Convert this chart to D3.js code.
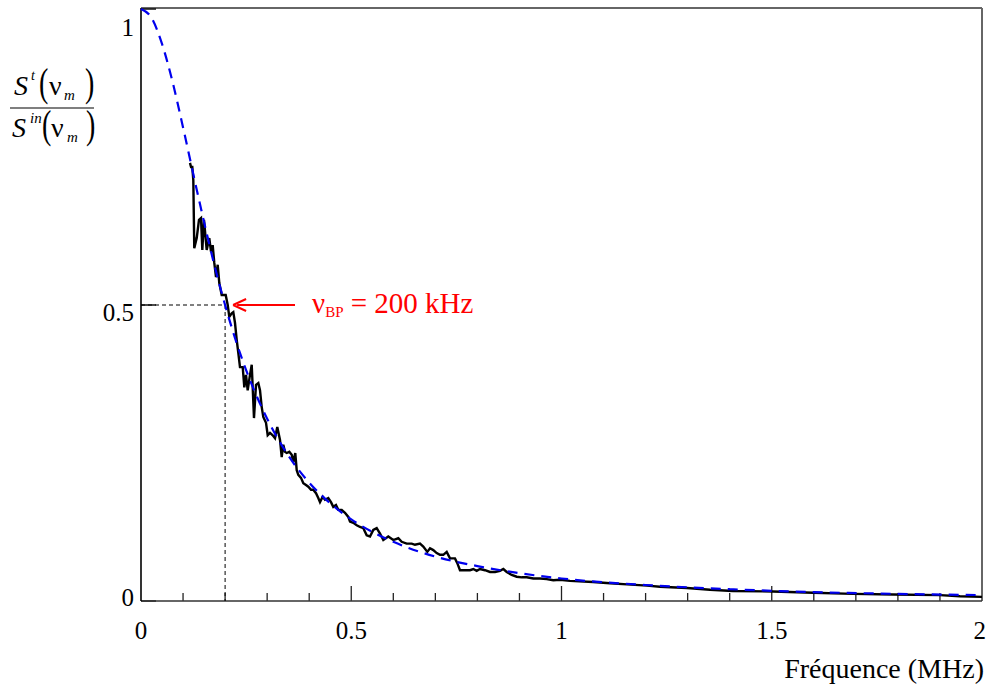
<!DOCTYPE html>
<html><head><meta charset="utf-8">
<script src="https://cdn.jsdelivr.net/npm/d3@7"></script>
<style>html,body{margin:0;padding:0;background:#fff;} svg{display:block;font-family:"Liberation Serif","DejaVu Serif",serif;}</style>
</head><body>
<svg id="chart" width="986" height="689"></svg>
<script>
// measured spectrum ratio (frequency in MHz, ratio)
const measFreq = [0.1165,0.119,0.122,0.1244,0.1267,0.1325,0.1379,0.1427,0.1458,0.1498,0.1562,0.1624,0.1665,0.1705,0.1743,0.1784,0.1824,0.1862,0.1919,0.2014,0.2062,0.210,0.2157,0.2195,0.2235,0.2276,0.2314,0.2354,0.2419,0.2457,0.2497,0.2537,0.2592,0.2633,0.2656,0.2687,0.2735,0.279,0.283,0.287,0.2908,0.2973,0.3013,0.3068,0.3132,0.3187,0.3241,0.3306,0.3346,0.3384,0.3424,0.3465,0.3527,0.3584,0.3622,0.3669,0.3703,0.3741,0.3805,0.386,0.3924,0.3979,0.4043,0.4097,0.4162,0.4216,0.4257,0.4321,0.4376,0.4454,0.4518,0.4573,0.4637,0.4692,0.4773,0.4851,0.493,0.497,0.5049,0.513,0.5208,0.5287,0.5367,0.5446,0.5524,0.5605,0.5684,0.5762,0.5881,0.600,0.6119,0.620,0.6319,0.6438,0.6516,0.6635,0.6713,0.6809,0.6873,0.6951,0.7032,0.7111,0.7189,0.727,0.7348,0.7467,0.7522,0.7586,0.7705,0.7824,0.7903,0.7983,0.8062,0.8181,0.830,0.8419,0.8537,0.8616,0.8697,0.8816,0.8935,0.9054,0.9173,0.933,0.9489,0.9648,0.9805,0.9964,1.0202,1.0749,1.1153,1.1558,1.2033,1.2342,1.2985,1.3531,1.4078,1.503,1.5981,1.6932,1.7884,1.9001,1.9477,2.0];
const measRatio = [0.740,0.733,0.733,0.711,0.596,0.613,0.644,0.647,0.593,0.644,0.593,0.613,0.590,0.601,0.571,0.547,0.568,0.537,0.517,0.517,0.500,0.480,0.486,0.488,0.470,0.441,0.419,0.395,0.395,0.361,0.382,0.356,0.382,0.399,0.361,0.309,0.365,0.368,0.356,0.328,0.311,0.301,0.280,0.284,0.280,0.275,0.294,0.272,0.243,0.264,0.252,0.250,0.252,0.247,0.235,0.250,0.221,0.213,0.208,0.199,0.196,0.193,0.188,0.188,0.182,0.174,0.167,0.176,0.171,0.174,0.167,0.159,0.162,0.154,0.154,0.149,0.142,0.134,0.132,0.128,0.125,0.123,0.111,0.109,0.120,0.123,0.114,0.103,0.109,0.103,0.106,0.100,0.097,0.097,0.095,0.097,0.092,0.083,0.089,0.086,0.081,0.078,0.078,0.083,0.072,0.072,0.064,0.052,0.052,0.052,0.054,0.051,0.054,0.052,0.049,0.049,0.051,0.054,0.049,0.044,0.041,0.040,0.040,0.038,0.038,0.037,0.035,0.036,0.034,0.032,0.030,0.028,0.026,0.024,0.022,0.019,0.017,0.016,0.014,0.012,0.011,0.010,0.008,0.007];
// model curve (dashed blue)
const modelFreq = [0,0.025,0.05,0.075,0.1,0.125,0.15,0.175,0.2,0.225,0.25,0.3,0.35,0.4,0.45,0.5,0.6,0.7,0.8,0.9,1.0,1.2,1.4,1.6,1.8,2.0];
const modelRatio = [1,0.985,0.941,0.877,0.800,0.719,0.640,0.566,0.500,0.441,0.390,0.308,0.246,0.200,0.165,0.138,0.100,0.075,0.059,0.047,0.038,0.027,0.020,0.015,0.012,0.010];
const xTickLabels = ["0","0.5","1","1.5","2"];
const xTickValues = [0,0.5,1,1.5,2];
const yTickLabels = ["0","0.5","1"];
const yTickValues = [0,0.5,1];
const bpFreq = 0.2, bpRatio = 0.5;
const annotation = {nu:"ν", sub:"BP", rest:" = 200 kHz"};
const xTitle = "Fréquence (MHz)";

const svg = d3.select("#chart");
const x = d3.scaleLinear().domain([0,2]).range([141,982]);
const y = d3.scaleLinear().domain([0,1]).range([601,9]);

// frame: top/right gray
svg.append("line").attr("x1",141).attr("x2",982).attr("y1",8).attr("y2",8).attr("stroke","#666").attr("stroke-width",2);
svg.append("line").attr("x1",982).attr("x2",982).attr("y1",8).attr("y2",601).attr("stroke","#666").attr("stroke-width",2);

// x minor/major ticks (inside, pointing up)
x.ticks(20).forEach(t=>{
  if (t===0 || t===2) return;
  const major = Math.abs(t*2-Math.round(t*2))<1e-9;
  svg.append("line").attr("x1",x(t)).attr("x2",x(t)).attr("y1",601).attr("y2",601-(major?15:8))
    .attr("stroke","#222").attr("stroke-width",1.3);
});
// y ticks
yTickValues.forEach(v=>{
  svg.append("line").attr("x1",141).attr("x2",156).attr("y1",y(v)).attr("y2",y(v)).attr("stroke","#111").attr("stroke-width",1.5);
});

// axes lines
svg.append("line").attr("x1",141).attr("x2",982).attr("y1",601).attr("y2",601).attr("stroke","#333").attr("stroke-width",1.6);
svg.append("line").attr("x1",141).attr("x2",141).attr("y1",8).attr("y2",601).attr("stroke","#000").attr("stroke-width",1.6);

// tick labels
xTickValues.forEach((v,i)=>{
  const last = i===xTickValues.length-1;
  svg.append("text").attr("x",last? x(v)+4 : x(v)).attr("y",639).attr("text-anchor",last?"end":"middle")
    .attr("font-size",25).attr("fill","#000").text(xTickLabels[i]);
});
const yLabelDy = [5, 16, 27];
yTickValues.forEach((v,i)=>{
  svg.append("text").attr("x",134).attr("y",y(v)+yLabelDy[i]).attr("text-anchor","end").attr("font-size",25).attr("fill","#000").text(yTickLabels[i]);
});

// reference dashed lines at the band pass point
svg.append("line").attr("x1",x(0)).attr("x2",x(bpFreq)).attr("y1",y(bpRatio)).attr("y2",y(bpRatio))
  .attr("stroke","#000").attr("stroke-width",1).attr("stroke-dasharray","4,3");
svg.append("line").attr("x1",x(bpFreq)).attr("x2",x(bpFreq)).attr("y1",y(bpRatio)).attr("y2",y(0))
  .attr("stroke","#000").attr("stroke-width",1).attr("stroke-dasharray","4,3");

// measured curve
const meas = measFreq.map((f,i)=>[f,measRatio[i]]);
svg.append("path").datum(meas)
  .attr("d", d3.line().x(d=>x(d[0])).y(d=>y(d[1])))
  .attr("fill","none").attr("stroke","#000").attr("stroke-width",2.4).attr("stroke-linejoin","miter");

// model curve
const model = modelFreq.map((f,i)=>[f,modelRatio[i]]);
svg.append("path").datum(model)
  .attr("d", d3.line().curve(d3.curveMonotoneX).x(d=>x(d[0])).y(d=>y(d[1])))
  .attr("fill","none").attr("stroke","#0000ee").attr("stroke-width",2.2).attr("stroke-dasharray","10,7");

// annotation arrow
const ax0 = x(bpFreq)+8, ay = y(bpRatio);
svg.append("line").attr("x1",ax0+4).attr("x2",295).attr("y1",ay).attr("y2",ay).attr("stroke","#f00").attr("stroke-width",2);
svg.append("path").attr("d",`M${ax0},${ay} L${ax0+13},${ay-6} M${ax0},${ay} L${ax0+13},${ay+6}`)
  .attr("stroke","#f00").attr("stroke-width",2).attr("fill","none");
const ann = svg.append("text").attr("x",312).attr("y",313).attr("fill","#f00").attr("font-size",29);
ann.append("tspan").text(annotation.nu);
ann.append("tspan").attr("font-size",15).attr("dy",4).text(annotation.sub);
ann.append("tspan").attr("dy",-4).text(annotation.rest);

// x title
svg.append("text").attr("x",984).attr("y",678).attr("text-anchor","end").attr("font-size",28).attr("fill","#000").text(xTitle);

// y title (fraction)
const yt = svg.append("g").attr("fill","#000");
function part(xp, yp, txt, size, italic){
  yt.append("text").attr("x",xp).attr("y",yp).attr("font-size",size).attr("font-style",italic?"italic":"normal").text(txt);
}
function paren(xp, yp, txt){
  yt.append("text").attr("x",0).attr("y",0).attr("font-size",28)
    .attr("transform",`translate(${xp},${yp}) scale(1,1.4)`).text(txt);
}
// numerator
part(14,95,"S",28,true);
part(31,80,"t",14,true);
paren(39,96,"(");
part(49,95,"ν",28,false);
part(64,100,"m",15,true);
paren(85,96,")");
// bar
yt.append("line").attr("x1",10).attr("x2",94).attr("y1",108).attr("y2",108).attr("stroke","#000").attr("stroke-width",1.2);
// denominator
part(12,137,"S",28,true);
part(30,123,"in",15,true);
paren(42,138,"(");
part(51,137,"ν",28,false);
part(67,142,"m",15,true);
paren(86,138,")");
</script>
</body></html>
